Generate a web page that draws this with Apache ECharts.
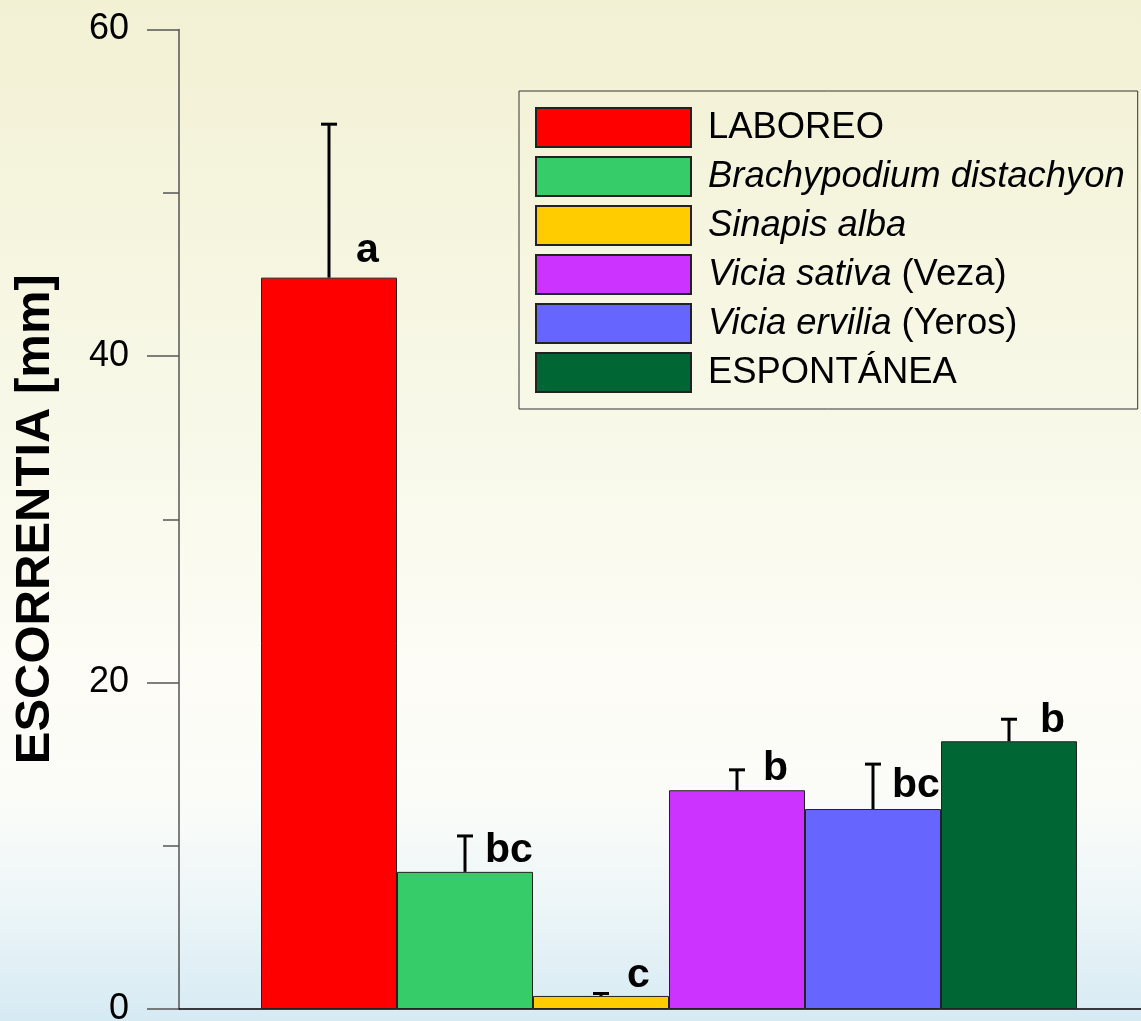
<!DOCTYPE html>
<html>
<head>
<meta charset="utf-8">
<script src="https://cdn.jsdelivr.net/npm/echarts@6/dist/echarts.min.js"></script>
<style>
html,body{margin:0;padding:0;width:1141px;height:1021px;overflow:hidden;}
#chart{width:1141px;height:1021px;}
</style>
</head>
<body>
<div id="chart"></div>
<script>
// ---- data ----
const groupCategory = ['Tratamientos'];
const treatments = ['LABOREO', 'Brachypodium distachyon', 'Sinapis alba', 'Vicia sativa (Veza)', 'Vicia ervilia (Yeros)', 'ESPONTÁNEA'];
const italicPart = ['', 'Brachypodium distachyon', 'Sinapis alba', 'Vicia sativa', 'Vicia ervilia', ''];
const runoffMean = [44.8, 8.4, 0.8, 13.4, 12.25, 16.4];
const runoffUpper = [54.2, 10.6, 0.95, 14.65, 15.0, 17.75];
const letters = ['a', 'bc', 'c', 'b', 'bc', 'b'];
const yMin = 0, yMax = 60, yInterval = 20;

// ---- styles ----
const colors = ['#ff0000', '#36cc6a', '#ffcc00', '#cc33ff', '#6666ff', '#006633'];
const letterDx = [27, 20, 26, 26, 19, 31];
const letterDy = [6, 1, 0, 1, 3, 0];
const catGapRatio = 164 / 980;
const FONT = '"Liberation Sans", Arial, Helvetica, sans-serif';

const chart = echarts.init(document.getElementById('chart'));

const barSeries = treatments.map((name, i) => ({
  name: name,
  type: 'bar',
  data: [runoffMean[i]],
  barGap: '0%',
  barCategoryGap: (catGapRatio * 100) + '%',
  itemStyle: { color: colors[i], borderColor: '#222', borderWidth: 1 },
  emphasis: { disabled: true },
  z: 2
}));

const errSeries = {
  type: 'custom',
  name: 'err',
  z: 5,
  silent: true,
  data: runoffMean.map((v, i) => [0, v, runoffUpper[i]]),
  encode: { x: 0, y: [1, 2] },
  renderItem: function (params, api) {
    const i = params.dataIndex;
    const base = api.coord([0, api.value(1)]);
    const top = api.coord([0, api.value(2)]);
    const band = api.size([1, 0])[0];
    const group = band * (1 - catGapRatio);
    const bw = group / treatments.length;
    const x = base[0] - group / 2 + bw * (i + 0.5);
    const half = 8;
    const fs = 41;
    return {
      type: 'group',
      children: [
        { type: 'line', shape: { x1: x, y1: base[1], x2: x, y2: top[1] }, style: { stroke: '#000', lineWidth: 3 } },
        { type: 'line', shape: { x1: x - half, y1: top[1], x2: x + half, y2: top[1] }, style: { stroke: '#000', lineWidth: 3 } },
        { type: 'text', style: {
            text: letters[i], x: x + letterDx[i], y: base[1] - letterDy[i],
            fill: '#000', font: 'bold ' + fs + 'px ' + FONT,
            textAlign: 'left', textVerticalAlign: 'bottom', verticalAlign: 'bottom'
          } }
      ]
    };
  }
};

const option = {
  animation: false,
  backgroundColor: {
    type: 'linear', x: 0, y: 0, x2: 0, y2: 1,
    colorStops: [
      { offset: 0, color: '#f2f1d4' },
      { offset: 0.4, color: '#f8f8e8' },
      { offset: 0.66, color: '#fdfcf6' },
      { offset: 0.78, color: '#fbfcf8' },
      { offset: 0.88, color: '#eef6f8' },
      { offset: 1, color: '#d6eaf3' }
    ]
  },
  textStyle: { fontFamily: FONT },
  grid: { left: 179, top: 29.5, width: 980, bottom: 12, containLabel: false, outerBoundsMode: 'none' },
  legend: {
    data: treatments,
    orient: 'vertical',
    left: 519,
    top: 91,
    padding: [16, 13, 16, 16],
    itemWidth: 155,
    itemHeight: 39,
    itemGap: 8,
    icon: 'rect',
    borderColor: '#333',
    borderWidth: 1,
    selectedMode: false,
    formatter: function (name) {
      const i = treatments.indexOf(name);
      const it = italicPart[i];
      if (!it) return name;
      const rest = name.slice(it.length);
      return '{i|' + it + '}' + rest;
    },
    textStyle: {
      fontSize: 36.4, color: '#000', fontFamily: FONT, padding: [0, 0, 0, 12],
      rich: { i: { fontStyle: 'italic', fontSize: 36.4, color: '#000', fontFamily: FONT } }
    }
  },
  xAxis: {
    type: 'category',
    data: groupCategory,
    axisLabel: { show: false },
    axisTick: { show: false },
    axisLine: { show: true, lineStyle: { color: '#000', width: 1.5 } },
    splitLine: { show: false }
  },
  yAxis: {
    type: 'value',
    min: yMin, max: yMax, interval: yInterval,
    name: 'ESCORRENTIA [mm]',
    nameLocation: 'middle',
    nameGap: 119,
    nameTextStyle: { fontSize: 49, fontWeight: 'bold', color: '#000', fontFamily: FONT },
    axisLine: { show: true, lineStyle: { color: '#555', width: 1.5 } },
    axisTick: { show: true, length: 32, lineStyle: { color: '#555', width: 1.5 } },
    minorTick: { show: true, splitNumber: 2, length: 16, lineStyle: { color: '#555', width: 1.5 } },
    axisLabel: { fontSize: 36, color: '#000', margin: 50, fontFamily: FONT },
    splitLine: { show: false }
  },
  series: barSeries.concat([errSeries])
};

chart.setOption(option);
</script>
</body>
</html>
